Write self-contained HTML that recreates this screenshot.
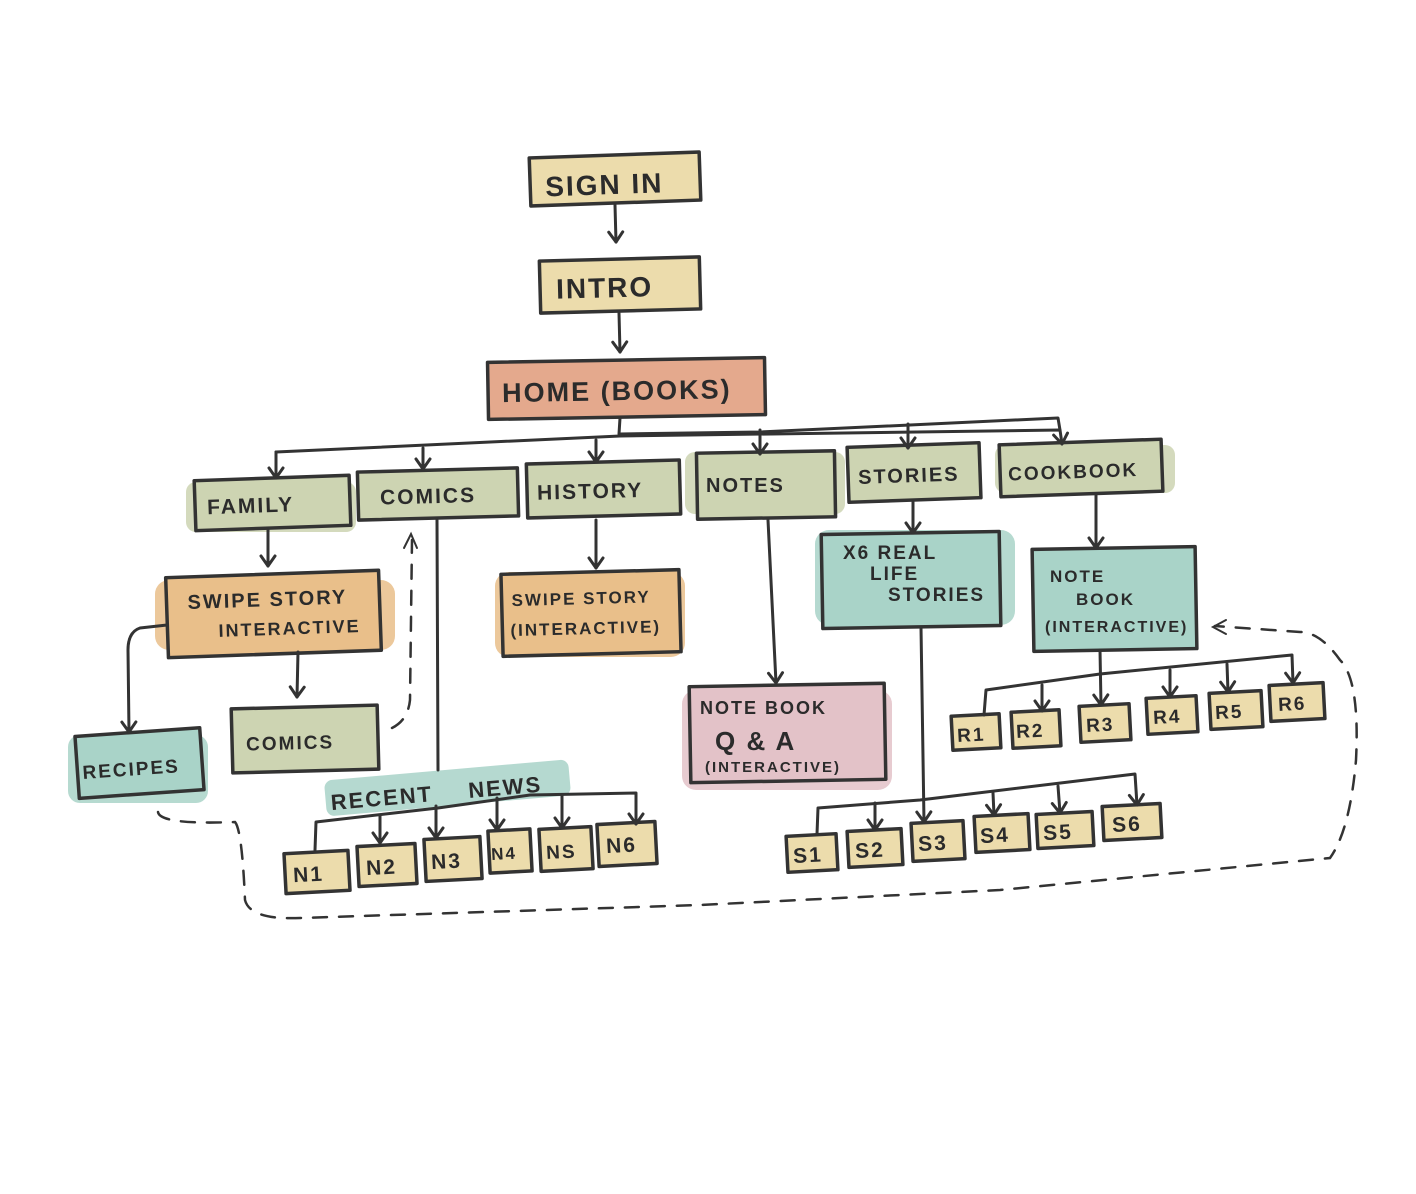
<!DOCTYPE html>
<html><head><meta charset="utf-8">
<style>
html,body{margin:0;padding:0;background:#fff;}
svg{display:block;}
text{font-family:"Liberation Sans",sans-serif;font-weight:bold;fill:#2b2b2b;letter-spacing:2px;}
</style></head><body>
<svg width="1416" height="1194" viewBox="0 0 1416 1194" xmlns="http://www.w3.org/2000/svg">
<defs>
<marker id="ah" markerWidth="16" markerHeight="18" refX="13" refY="9" orient="auto" markerUnits="userSpaceOnUse">
<path d="M3,2 L13,9 L3,16" fill="none" stroke="#333" stroke-width="3" stroke-linecap="round" stroke-linejoin="round"/>
</marker>
</defs>
<g stroke="#333" stroke-width="3.5" stroke-linejoin="round">
<g stroke="none" opacity="0.85">
<rect x="186" y="482" width="170" height="50" fill="#cdd4b2" rx="10"/>
<rect x="685" y="452" width="160" height="62" fill="#cdd4b2" rx="10"/>
<rect x="995" y="445" width="180" height="48" fill="#cdd4b2" rx="10"/>
<rect x="155" y="580" width="240" height="70" fill="#e9bf8a" rx="14"/>
<rect x="495" y="572" width="190" height="85" fill="#e9bf8a" rx="14"/>
<rect x="68" y="735" width="140" height="68" fill="#a9d3c8" rx="12"/>
<rect x="815" y="530" width="200" height="95" fill="#a9d3c8" rx="14"/>
<rect x="682" y="690" width="210" height="100" fill="#e3c2c8" rx="14"/>
<rect x="325" y="770" width="245" height="36" fill="#a9d3c8" rx="8" transform="rotate(-5 446 788)"/>
</g>
<rect x="530" y="155" width="170" height="48" fill="#ecdcac" transform="rotate(-2 615 179)"/>
<rect x="540" y="259" width="160" height="52" fill="#ecdcac" transform="rotate(-1.5 620 285)"/>
<rect x="488" y="360" width="277" height="57" fill="#e4a98d" transform="rotate(-1 626 388)"/>
<rect x="195" y="478" width="155" height="50" fill="#cdd4b2" transform="rotate(-2 272 503)"/>
<rect x="358" y="470" width="160" height="48" fill="#cdd4b2" transform="rotate(-1.5 438 494)"/>
<rect x="527" y="462" width="153" height="54" fill="#cdd4b2" transform="rotate(-1.5 603 489)"/>
<rect x="697" y="452" width="138" height="66" fill="#cdd4b2" transform="rotate(-1 766 485)"/>
<rect x="848" y="445" width="132" height="55" fill="#cdd4b2" transform="rotate(-2 914 472)"/>
<rect x="1000" y="442" width="162" height="52" fill="#cdd4b2" transform="rotate(-2 1081 468)"/>
<rect x="167" y="574" width="213" height="80" fill="#e9bf8a" transform="rotate(-2 273 614)"/>
<rect x="502" y="572" width="178" height="82" fill="#e9bf8a" transform="rotate(-1.5 591 613)"/>
<rect x="232" y="707" width="146" height="64" fill="#cdd4b2" transform="rotate(-1.5 305 739)"/>
<rect x="77" y="732" width="125" height="62" fill="#a9d3c8" transform="rotate(-4 140 763)"/>
<rect x="822" y="533" width="178" height="94" fill="#a9d3c8" transform="rotate(-1 911 580)"/>
<rect x="1033" y="548" width="163" height="102" fill="#a9d3c8" transform="rotate(-1 1114 599)"/>
<rect x="690" y="685" width="195" height="96" fill="#e3c2c8" transform="rotate(-1 787 733)"/>
<g fill="#ecdcac">
<rect x="952" y="715" width="48" height="34" transform="rotate(-3 976 732)"/>
<rect x="1012" y="711" width="48" height="36" transform="rotate(-3 1036 729)"/>
<rect x="1080" y="705" width="50" height="36" transform="rotate(-3 1105 723)"/>
<rect x="1147" y="697" width="50" height="36" transform="rotate(-3 1172 715)"/>
<rect x="1210" y="692" width="52" height="36" transform="rotate(-3 1236 710)"/>
<rect x="1270" y="684" width="54" height="36" transform="rotate(-3 1297 702)"/>
<rect x="285" y="852" width="64" height="40" transform="rotate(-3 317 872)"/>
<rect x="358" y="845" width="58" height="40" transform="rotate(-3 387 865)"/>
<rect x="425" y="838" width="56" height="42" transform="rotate(-3 453 859)"/>
<rect x="489" y="830" width="42" height="42" transform="rotate(-3 510 851)"/>
<rect x="540" y="828" width="52" height="42" transform="rotate(-3 566 849)"/>
<rect x="598" y="823" width="58" height="42" transform="rotate(-3 627 844)"/>
<rect x="787" y="835" width="50" height="36" transform="rotate(-3 812 853)"/>
<rect x="848" y="830" width="54" height="36" transform="rotate(-3 875 848)"/>
<rect x="912" y="822" width="52" height="38" transform="rotate(-3 938 841)"/>
<rect x="975" y="815" width="54" height="36" transform="rotate(-3 1002 833)"/>
<rect x="1037" y="813" width="56" height="34" transform="rotate(-3 1065 830)"/>
<rect x="1103" y="805" width="58" height="34" transform="rotate(-3 1132 822)"/>
</g>
</g>
<g fill="none" stroke="#333" stroke-width="3" stroke-linecap="round" stroke-linejoin="round">
<path d="M615 205 L616 242" marker-end="url(#ah)"/>
<path d="M619 313 L620 352" marker-end="url(#ah)"/>
<path d="M620 418 L619 434"/>
<path d="M276 452 L620 436 L1060 430 L1062 444" marker-end="url(#ah)"/>
<path d="M276 452 L276 478" marker-end="url(#ah)"/>
<path d="M620 434 L760 432 L1058 418 L1060 430"/>
<path d="M423 448 L423 469" marker-end="url(#ah)"/>
<path d="M596 440 L596 462" marker-end="url(#ah)"/>
<path d="M760 430 L760 454" marker-end="url(#ah)"/>
<path d="M908 424 L908 448" marker-end="url(#ah)"/>
<path d="M268 530 L268 566" marker-end="url(#ah)"/>
<path d="M596 520 L596 568" marker-end="url(#ah)"/>
<path d="M298 652 L297 697" marker-end="url(#ah)"/>
<path d="M167 625 L140 628 Q128 632 128 650 L129 732" marker-end="url(#ah)"/>
<path d="M768 520 L776 683" marker-end="url(#ah)"/>
<path d="M913 502 L913 533" marker-end="url(#ah)"/>
<path d="M1096 495 L1096 548" marker-end="url(#ah)"/>
<path d="M437 520 L438 770"/>
<path d="M315 850 L316 822 L438 808 L530 795 L636 793 L636 824" marker-end="url(#ah)"/>
<path d="M380 815 L380 843" marker-end="url(#ah)"/>
<path d="M436 806 L436 838" marker-end="url(#ah)"/>
<path d="M497 798 L497 830" marker-end="url(#ah)"/>
<path d="M562 795 L562 828" marker-end="url(#ah)"/>
<path d="M1100 650 L1101 705" marker-end="url(#ah)"/>
<path d="M984 715 L986 690 L1100 674 L1292 655 L1293 683" marker-end="url(#ah)"/>
<path d="M1042 685 L1042 711" marker-end="url(#ah)"/>
<path d="M1170 670 L1170 697" marker-end="url(#ah)"/>
<path d="M1227 664 L1228 692" marker-end="url(#ah)"/>
<path d="M921 627 L924 822" marker-end="url(#ah)"/>
<path d="M817 834 L818 808 L920 800 L1135 774 L1137 805" marker-end="url(#ah)"/>
<path d="M875 803 L875 830" marker-end="url(#ah)"/>
<path d="M993 793 L994 815" marker-end="url(#ah)"/>
<path d="M1058 786 L1060 813" marker-end="url(#ah)"/>
</g>
<g fill="none" stroke="#333" stroke-width="2.5" stroke-dasharray="14 12" stroke-linecap="round">
<path d="M392 728 Q408 720 410 700 L412 540" />
<path d="M158 812 Q160 825 235 822 Q242 830 245 900 Q250 920 300 918 L700 905 L1000 890 L1330 858 Q1350 830 1356 760 Q1360 680 1340 660 Q1320 632 1300 632 L1215 626"/>
</g>
<path d="M404 548 L411 534 L417 548" fill="none" stroke="#333" stroke-width="2" stroke-linecap="round"/>
<path d="M1226 620 L1213 627 L1226 634" fill="none" stroke="#333" stroke-width="2" stroke-linecap="round"/>
<g font-size="28">
<text x="545" y="194" transform="rotate(-2 615 179)">SIGN IN</text>
<text x="556" y="297" transform="rotate(-1.5 620 285)">INTRO</text>
<text x="502" y="400" font-size="27" transform="rotate(-1 626 388)">HOME (BOOKS)</text>
</g>
<g font-size="21">
<text x="207" y="512" transform="rotate(-2 272 503)">FAMILY</text>
<text x="380" y="503" transform="rotate(-1.5 438 494)">COMICS</text>
<text x="537" y="498" transform="rotate(-1.5 603 489)">HISTORY</text>
<text x="706" y="492" font-size="20">NOTES</text>
<text x="858" y="482" font-size="20" letter-spacing="0" transform="rotate(-2 914 472)">STORIES</text>
<text x="1008" y="478" font-size="19" letter-spacing="0" transform="rotate(-2 1081 468)">COOKBOOK</text>
<text x="188" y="606" font-size="20" letter-spacing="0" transform="rotate(-2 273 614)">SWIPE STORY</text>
<text x="218" y="635" font-size="18" letter-spacing="0" transform="rotate(-2 273 614)">INTERACTIVE</text>
<text x="512" y="604" font-size="17" letter-spacing="0" transform="rotate(-1.5 591 613)">SWIPE STORY</text>
<text x="510" y="634" font-size="17" letter-spacing="-1" transform="rotate(-1.5 591 613)">(INTERACTIVE)</text>
<text x="246" y="749" font-size="19" transform="rotate(-1.5 305 739)">COMICS</text>
<text x="82" y="775" font-size="19" letter-spacing="0" transform="rotate(-4 140 763)">RECIPES</text>
<text x="843" y="559" font-size="19">X6 REAL</text>
<text x="870" y="580" font-size="19">LIFE</text>
<text x="888" y="601" font-size="19" letter-spacing="0">STORIES</text>
<text x="1050" y="582" font-size="17">NOTE</text>
<text x="1076" y="605" font-size="17">BOOK</text>
<text x="1045" y="632" font-size="16" letter-spacing="-1">(INTERACTIVE)</text>
<text x="700" y="714" font-size="18" letter-spacing="0">NOTE BOOK</text>
<text x="715" y="750" font-size="26">Q &amp; A</text>
<text x="705" y="772" font-size="15" letter-spacing="0">(INTERACTIVE)</text>
<g transform="rotate(-5 446 788)" font-size="22" letter-spacing="3">
<text x="330" y="800">RECENT</text>
<text x="468" y="800">NEWS</text>
</g>
</g>
<g font-size="21">
<text x="293" y="881" transform="rotate(-3 317 872)">N1</text>
<text x="366" y="874" transform="rotate(-3 387 865)">N2</text>
<text x="431" y="868" transform="rotate(-3 453 859)">N3</text>
<text x="491" y="859" font-size="17" letter-spacing="0" transform="rotate(-3 510 851)">N4</text>
<text x="546" y="858" font-size="19" transform="rotate(-3 566 849)">NS</text>
<text x="606" y="852" transform="rotate(-3 627 844)">N6</text>
<text x="957" y="741" font-size="19" transform="rotate(-3 976 732)">R1</text>
<text x="1016" y="737" font-size="19" transform="rotate(-3 1036 729)">R2</text>
<text x="1086" y="731" font-size="19" transform="rotate(-3 1105 723)">R3</text>
<text x="1153" y="723" font-size="19" transform="rotate(-3 1172 715)">R4</text>
<text x="1215" y="718" font-size="19" transform="rotate(-3 1236 710)">R5</text>
<text x="1278" y="710" font-size="19" transform="rotate(-3 1297 702)">R6</text>
<text x="793" y="862" transform="rotate(-3 812 853)">S1</text>
<text x="855" y="857" transform="rotate(-3 875 848)">S2</text>
<text x="918" y="850" transform="rotate(-3 938 841)">S3</text>
<text x="980" y="842" transform="rotate(-3 1002 833)">S4</text>
<text x="1043" y="839" transform="rotate(-3 1065 830)">S5</text>
<text x="1112" y="831" transform="rotate(-3 1132 822)">S6</text>
</g>
</svg>
</body></html>
